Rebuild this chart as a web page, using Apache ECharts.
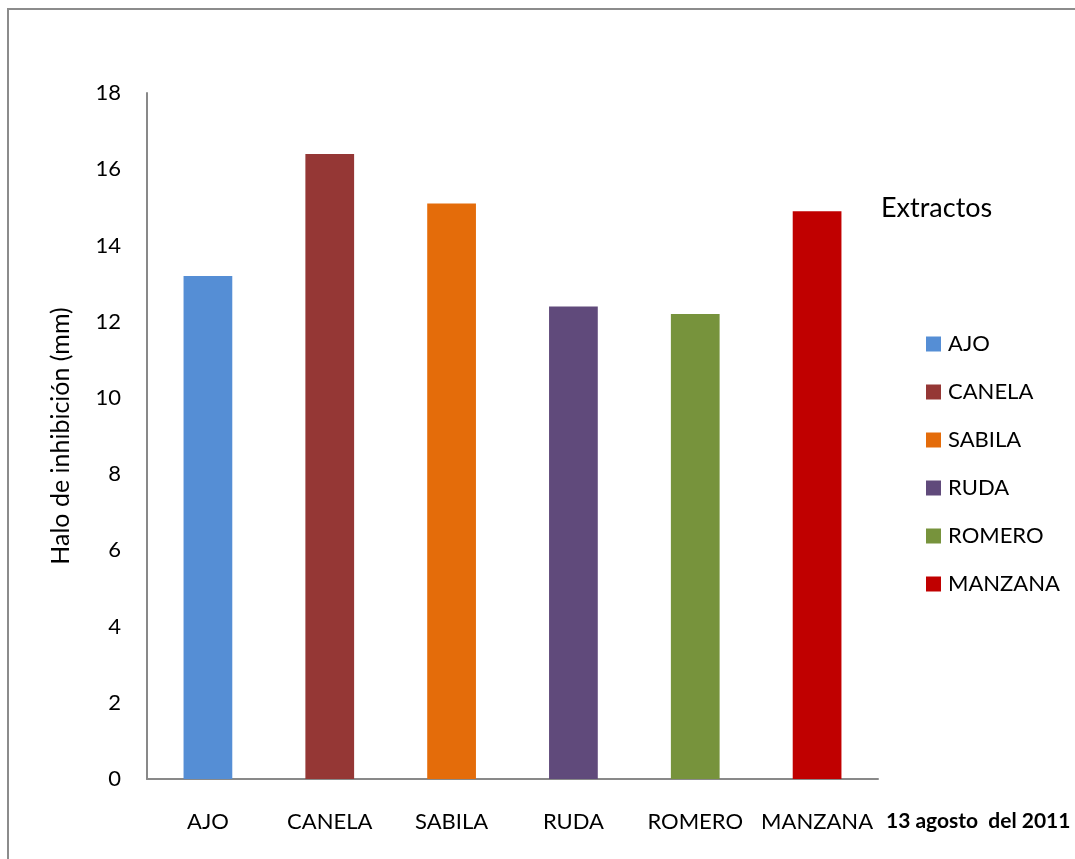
<!DOCTYPE html>
<html lang="es">
  <head>
    <meta charset="UTF-8" />
    <title>Halo de inhibición</title>
    <script src="https://cdn.jsdelivr.net/npm/echarts@6/dist/echarts.min.js"></script>
    <style>
      html, body { margin: 0; padding: 0; background: #fff; }
      #chart { width: 1075px; height: 859px; }
    </style>
  </head>
  <body>
    <div id="chart"></div>
    <script>
      // extractos y halo de inhibición (mm)
      const categories = ['AJO', 'CANELA', 'SABILA', 'RUDA', 'ROMERO', 'MANZANA']
      const values = [13.2, 16.4, 15.1, 12.4, 12.2, 14.9]
      const colors = ['#558ED5', '#953735', '#E46C0A', '#604A7B', '#77933C', '#C00000']
      const yTicks = [0, 2, 4, 6, 8, 10, 12, 14, 16, 18]

      const font = 'Lato, "Open Sans", sans-serif'

      // one series per extracto so each gets its own legend entry
      const series = categories.map((name, i) => ({
        name: name,
        type: 'bar',
        stack: 'all',
        barWidth: '40%',
        itemStyle: { color: colors[i] },
        data: categories.map((c, j) => (j === i ? values[i] : null))
      }))

      const chart = echarts.init(document.getElementById('chart'))
      chart.setOption({
        animation: false,
        grid: { left: 147, top: 93, right: 197, bottom: 80 },
        legend: {
          orient: 'vertical',
          left: 921,
          top: 328,
          itemWidth: 15,
          itemHeight: 15,
          itemGap: 26,
          icon: 'rect',
          textStyle: { fontFamily: font, fontSize: 22, color: '#000', padding: [0, 0, 0, 2] },
          data: categories
        },
        xAxis: {
          type: 'category',
          data: categories,
          axisLine: { lineStyle: { color: '#898989', width: 2 } },
          axisTick: { show: false },
          axisLabel: { interval: 0, fontFamily: font, fontSize: 22, color: '#000', margin: 32 }
        },
        yAxis: {
          type: 'value',
          min: yTicks[0],
          max: yTicks[yTicks.length - 1],
          interval: 2,
          name: 'Halo de inhibición (mm)',
          nameLocation: 'middle',
          nameGap: 74,
          nameTextStyle: { fontFamily: font, fontSize: 25, color: '#000' },
          axisLine: { show: true, lineStyle: { color: '#898989', width: 2 } },
          axisTick: { show: false },
          splitLine: { show: false },
          axisLabel: { fontFamily: font, fontSize: 22, color: '#000', margin: 26 }
        },
        graphic: [
          {
            type: 'rect',
            shape: { x: 8, y: 9, width: 1200, height: 1000 },
            style: { fill: 'none', stroke: '#8c8c8c', lineWidth: 2 },
            silent: true
          },
          {
            type: 'text',
            left: 881,
            top: 195,
            style: { text: 'Extractos', fontFamily: font, fontSize: 27, fill: '#000' }
          },
          {
            type: 'text',
            left: 886,
            top: 811,
            style: { text: '13 agosto  del 2011', fontFamily: font, fontSize: 21, fontWeight: 'bold', fill: '#000' }
          }
        ],
        series: series
      })
    </script>
  </body>
</html>
